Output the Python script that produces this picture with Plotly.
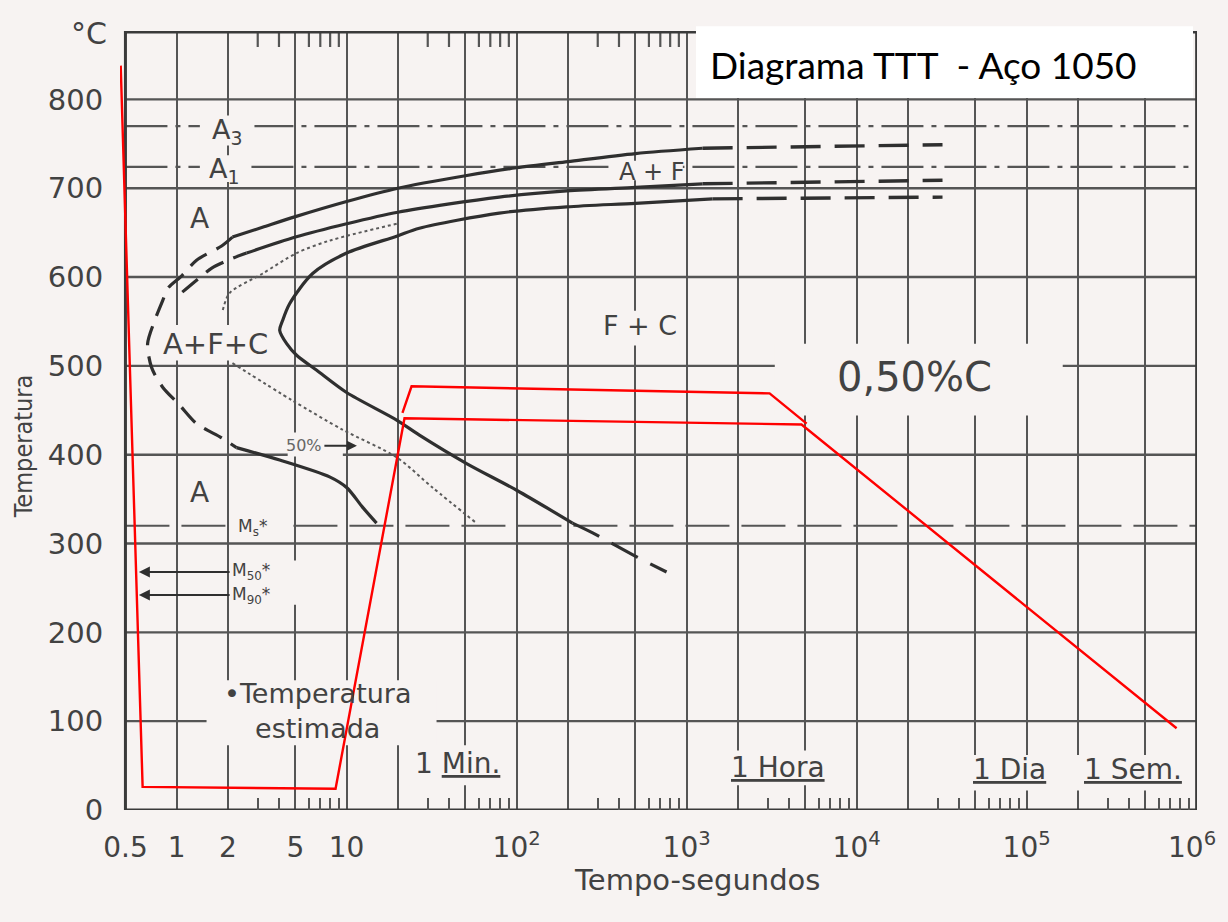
import numpy as np
import plotly.graph_objects as go

# ---------------- data ----------------
temp_ticks = [0, 100, 200, 300, 400, 500, 600, 700, 800]
time_grid = [0.5, 1, 2, 5, 10, 20, 50, 100, 200, 500, 1e3, 2e3, 5e3,
             1e4, 2e4, 5e4, 1e5, 2e5, 5e5, 1e6]
time_labels = ["0.5", "1", "2", "5", "10", "", "", "10<sup>2</sup>", "", "",
               "10<sup>3</sup>", "", "", "10<sup>4</sup>", "", "", "10<sup>5</sup>",
               "", "", "10<sup>6</sup>"]
minor_ticks = [m * 10.0 ** k for k in range(0, 6) for m in (3, 4, 6, 7, 8, 9)]
top_minor_ticks = [m * 10.0 ** k for k in range(0, 3) for m in (3, 4, 6, 7, 8, 9)]

# critical temperatures (°C)
A3_temp = 770
A1_temp = 724
Ms_temp = 320
M50_temp = 268
M90_temp = 242

# transformation start (outer curve) - solid upper branch
c1_t = [2.13, 3.2, 5, 10, 20, 50, 100, 200, 500, 1242]
c1_T = [645, 656, 668, 685, 700, 714, 723, 730, 739, 745]
c1_ext_t = [1242, 32000]
c1_ext_T = [745, 749]
# outer curve around the nose (estimated, dashed)
nose_t = [2.13, 1.84, 1.31, 1.08, 0.885, 0.83, 0.743, 0.675, 0.713, 0.828, 1.04, 1.31, 1.84, 2.25]
nose_T = [645, 635, 619, 602, 587, 574, 551, 525, 498, 476, 456, 435, 419, 408]
# lower (bainite) start branch
bain_t = [2.25, 4.04, 7.94, 10, 12.4, 15]
bain_T = [408, 394, 375, 363, 341, 323]

# middle curve
c2_dash_t = [1.08, 1.36, 1.61, 2.13, 2.58]
c2_dash_T = [583, 599, 610, 621, 627]
c2_t = [2.58, 5, 10, 20, 79, 197, 500, 1242]
c2_T = [627, 645, 660, 673, 690, 697, 701, 705]
c2_ext_t = [1242, 32000]
c2_ext_T = [705, 709]

# end of transformation curve
c3_t = [1422, 500, 197, 79, 26.8, 19.7, 10, 6.31, 4.62, 4.2, 4.04, 4.44, 5.08,
        6.67, 10, 19.7, 26.8, 50.8, 100, 213]
c3_T = [688, 683, 679, 672, 655, 646, 627, 604, 570, 551, 540, 525, 512,
        495, 470, 439, 422, 390, 360, 323]
c3_low_t = [213, 280, 508, 762]
c3_low_T = [323, 312, 285, 268]
c3_ext_t = [1422, 32000]
c3_ext_T = [688, 690]

# 50 % transformation (dotted)
half_up_t = [19.7, 7.94, 5.08, 3.21, 2.05, 1.87]
half_up_T = [660, 641, 627, 604, 582, 563]
half_lo_t = [2.13, 4.8, 9.5, 19.7, 32, 58]
half_lo_T = [503, 461, 428, 397, 363, 323]

# red cooling paths
red1_t = [0.469, 0.631, 8.61, 21.9, 4740, 762000]
red1_T = [838, 26, 24, 441, 434, 92]
red2_t = [21.3, 24.1, 3076, 5080]
red2_T = [447, 477, 469, 435]

# text labels inside the chart: (text, t, T, size)
labels = [
    ("A", 1.36, 666, 28),
    ("A", 1.36, 358, 28),
    ("A<sub>3</sub>", 2.0, 764, 27),
    ("A<sub>1</sub>", 1.9, 720, 27),
    ("A+F+C", 1.69, 525, 29),
    ("A + F", 622, 718, 24),
    ("F + C", 530, 545, 27),
    ("0,50%C", 21900, 487, 40),
    ("M<sub>s</sub>*", 2.8, 318, 17),
    ("•Temperatura<br>estimada", 6.75, 111, 27),
    ("1 <u>Min.</u>", 45, 52, 28),
    ("<u>1 Hora</u>", 3430, 48, 28),
    ("<u>1 Dia</u>", 79400, 46, 28),
    ("<u>1 Sem.</u>", 420000, 46, 28),
]

# gaps in the grid behind labels: (t0, t1, T0, T1)
masks = [
    (3300, 163000, 444, 525),
    (1.5, 33.8, 73, 146),
    (1.37, 2.87, 748, 782),
    (1.37, 2.62, 707, 737),
    (360, 950, 709, 731),
    (2.19, 4.31, 304, 332),
    (2.13, 5.3, 231, 281),
    (4.5, 9.5, 398, 425),
    (23.5, 85, 28, 73),
    (1670, 7400, 28, 67),
    (46000, 135000, 22, 62),
    (195000, 900000, 22, 62),
    (310, 910, 523, 562),
    (0.74, 3.6, 506, 546),
]

# ---------------- styling ----------------
BG = "#f7f3f2"
GRID = "#555555"
INK = "#2f2f2f"
TXT = "#424242"
FONT = "DejaVu Sans"
T_TOP = 877
T_MIN, T_MAX = 0.5, 1e6

fig = go.Figure()


def add_line(t, T, color=INK, width=3, dash="solid", smooth=False):
    fig.add_trace(go.Scatter(x=t, y=T, mode="lines", hoverinfo="skip",
                             showlegend=False,
                             line=dict(color=color, width=width, dash=dash,
                                       shape="spline" if smooth else "linear",
                                       smoothing=0.8 if smooth else None)))


# horizontal grid
gx, gy = [], []
for T in temp_ticks[1:]:
    gx += [T_MIN, T_MAX, None]
    gy += [T, T, None]
add_line(gx, gy, GRID, 2.4)

# short tick marks along the top edge
tx, ty = [], []
for t in top_minor_ticks:
    tx += [t, t, None]
    ty += [T_TOP, T_TOP - 18, None]
add_line(tx, ty, GRID, 2.2)

# critical temperature lines
add_line([T_MIN, T_MAX], [A3_temp, A3_temp], GRID, 2.2, "42px,8px,5px,8px")
add_line([T_MIN, T_MAX], [A1_temp, A1_temp], GRID, 2.2, "42px,8px,5px,8px")
add_line([T_MIN, T_MAX], [Ms_temp, Ms_temp], GRID, 2.2, "44px,12px")

# masks (gaps behind labels)
for t0, t1, T0, T1 in masks:
    fig.add_trace(go.Scatter(x=[t0, t1, t1, t0, t0], y=[T0, T0, T1, T1, T0],
                             mode="lines", fill="toself", fillcolor=BG,
                             line=dict(width=0, color=BG), hoverinfo="skip",
                             showlegend=False))

# frame
add_line([T_MIN, T_MAX, T_MAX, T_MIN, T_MIN], [0, 0, T_TOP - 1, T_TOP - 1, 0], "#3a3a3a", 3)

# transformation curves
add_line(c1_t, c1_T, INK, 3.2, smooth=True)
add_line(c1_ext_t, c1_ext_T, INK, 3.4, "30px,14px")
add_line(nose_t, nose_T, INK, 3.2, "20px,11px", smooth=True)
add_line(bain_t, bain_T, INK, 3.2, smooth=True)
add_line(c2_dash_t, c2_dash_T, INK, 3.2, "20px,11px", smooth=True)
add_line(c2_t, c2_T, INK, 3.2, smooth=True)
add_line(c2_ext_t, c2_ext_T, INK, 3.4, "30px,14px")
add_line(c3_t, c3_T, INK, 3.2, smooth=True)
add_line(c3_low_t, c3_low_T, INK, 3.2, "30px,14px", smooth=True)
add_line(c3_ext_t, c3_ext_T, INK, 3.4, "30px,14px")
add_line(half_up_t, half_up_T, "#5a5a5a", 2, "3px,3px", smooth=True)
add_line(half_lo_t, half_lo_T, "#5a5a5a", 2, "3px,3px", smooth=True)

# red cooling paths
add_line(red1_t, red1_T, "#ff0000", 2.4)
add_line(red2_t, red2_T, "#ff0000", 2.4)

annotations = []
for text, t, T, size in labels:
    annotations.append(dict(x=np.log10(t), y=T, xref="x", yref="y", text=text,
                            xanchor="center", yanchor="middle",
                            showarrow=False, font=dict(family=FONT, size=size, color=TXT)))

# arrows for M50 / M90 and 50 %
for text, T in (("M<sub>50</sub>*", M50_temp), ("M<sub>90</sub>*", M90_temp)):
    annotations.append(dict(x=np.log10(0.6), y=T, ax=np.log10(2.05), ay=T,
                            xref="x", yref="y", axref="x", ayref="y",
                            text=text, xanchor="left", yanchor="middle", showarrow=True,
                            arrowhead=2, arrowsize=1.1, arrowwidth=2, arrowcolor=INK,
                            font=dict(family=FONT, size=17, color=TXT)))
annotations.append(dict(x=np.log10(11.5), y=410, ax=np.log10(7.4), ay=410,
                        xref="x", yref="y", axref="x", ayref="y",
                        text="50%", xanchor="right", yanchor="middle", showarrow=True,
                        arrowhead=2, arrowsize=1, arrowwidth=2, arrowcolor=INK,
                        font=dict(family=FONT, size=16, color="#666")))

# the last time label sits at the right edge: draw it as an annotation so it stays on the page
tick_text_axis = time_labels[:-1] + [""]
annotations.append(dict(x=1.0195, y=-0.046, xref="paper", yref="paper",
                        text=time_labels[-1], showarrow=False,
                        xanchor="right", yanchor="middle",
                        font=dict(family=FONT, size=28, color=TXT)))

# axis texts
annotations += [
    dict(x=-0.029, y=0.997, xref="paper", yref="paper", text="°C", showarrow=False,
         xanchor="center", yanchor="middle",
         font=dict(family=FONT, size=30, color=TXT)),
    dict(x=-0.089, y=0.466, xref="paper", yref="paper", text="Temperatura",
         textangle=-90, showarrow=False, xanchor="center", yanchor="middle",
         font=dict(family="DejaVu Sans Condensed, DejaVu Sans", size=25, color=TXT)),
    dict(x=0.536, y=-0.09, xref="paper", yref="paper", text="Tempo-segundos",
         showarrow=False, xanchor="center", yanchor="middle",
         font=dict(family=FONT, size=29, color=TXT)),
    dict(x=0.546, y=0.957, xref="paper", yref="paper", xanchor="left", yanchor="middle",
         text="Diagrama TTT\u00a0 - Aço 1050", showarrow=False,
         font=dict(family="Lato, Open Sans", size=37, color="#000000")),
]

fig.update_layout(
    width=1212, height=906, autosize=False,
    margin=dict(l=112, r=23, t=23, b=104),
    paper_bgcolor=BG, plot_bgcolor=BG,
    showlegend=False,
    annotations=annotations,
    shapes=[dict(type="rect", xref="paper", yref="paper", x0=0.5348, x1=0.9963,
                 y0=0.914, y1=1.006, fillcolor="white", line=dict(width=0),
                 layer="above")],
    xaxis=dict(type="log", range=[np.log10(0.4645), 6.002],
               tickmode="array", tickvals=time_grid, ticktext=tick_text_axis,
               showgrid=True, gridcolor=GRID, gridwidth=2.4,
               ticks="outside", ticklen=12, tickcolor="rgba(0,0,0,0)",
               tickfont=dict(family=FONT, size=28, color=TXT),
               showline=False, zeroline=False,
               minor=dict(tickmode="array", tickvals=minor_ticks, ticks="inside",
                          ticklen=12, tickwidth=2, tickcolor=GRID, showgrid=False)),
    yaxis=dict(range=[0, T_TOP], tickmode="array", tickvals=temp_ticks,
               showgrid=False, zeroline=False, showline=False,
               ticks="outside", ticklen=10, tickcolor="rgba(0,0,0,0)",
               tickfont=dict(family=FONT, size=29, color=TXT)),
)

fig.write_html(
    "out.html",
    config={"displayModeBar": False},
    post_script="document.body.style.background='%s';" % BG,
)
